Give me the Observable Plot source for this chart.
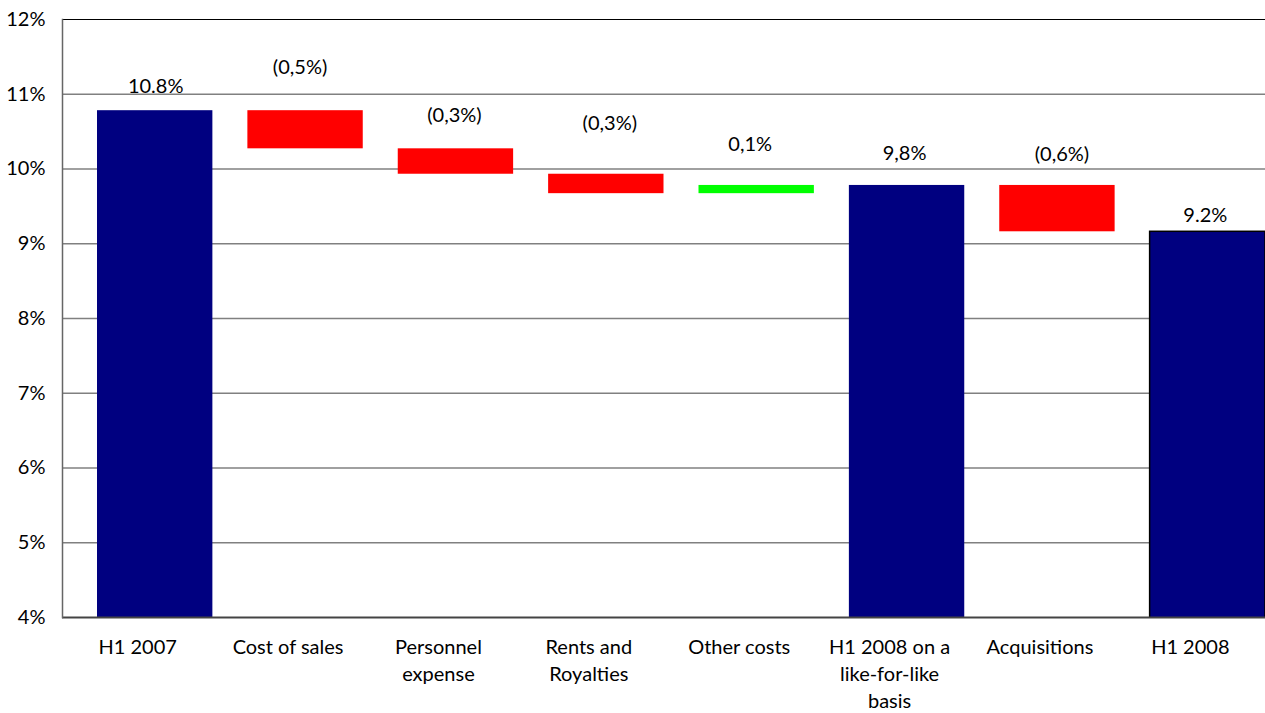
<!DOCTYPE html>
<html>
<head>
<meta charset="utf-8">
<script src="https://cdn.jsdelivr.net/npm/d3@7"></script>
<script src="https://cdn.jsdelivr.net/npm/@observablehq/plot@0.6"></script>
<style>
  html, body { margin: 0; padding: 0; background: #fff; }
  #chart { width: 1265px; height: 713px; }
</style>
</head>
<body>
<div id="chart"></div>
<script>
// ---- data ----
const categories = ["H1 2007", "Cost of sales", "Personnel\nexpense", "Rents and\nRoyalties", "Other costs", "H1 2008 on a\nlike-for-like\nbasis", "Acquisitions", "H1 2008"];
const barLow  = [0,     10.27, 9.93,  9.67, 9.67, 0,    9.16, 0];
const barHigh = [10.78, 10.78, 10.27, 9.93, 9.78, 9.78, 9.78, 9.16];
const kinds = ["total", "decrease", "decrease", "decrease", "increase", "total", "decrease", "final"];
const valueLabels = ["10.8%", "(0,5%)", "(0,3%)", "(0,3%)", "0,1%", "9,8%", "(0,6%)", "9.2%"];
const yTicks = [4, 5, 6, 7, 8, 9, 10, 11, 12];

// ---- styling ----
const colorOf = {total: "#000080", final: "#000080", decrease: "#FF0000", increase: "#00FF00"};
const labelDy = [-24, -43, -33, -51, -41, -32, -31, -16];
const labelDx = [18, 12, 16, 21, 11, 15, 22, 15];

const rows = categories.map((c, i) => ({cat: c, low: barLow[i], high: barHigh[i], kind: kinds[i], label: valueLabels[i]}));

const chart = Plot.plot({
  width: 1265,
  height: 713,
  marginLeft: 62,
  marginRight: 0,
  marginTop: 19,
  marginBottom: 96,
  style: {fontFamily: "Lato, 'Open Sans', sans-serif", fontSize: "20px", color: "#000", background: "#fff", overflow: "visible"},
  x: {domain: categories, padding: 0, round: false, label: null},
  y: {domain: [4, 12], label: null},
  marks: [
    Plot.ruleY(yTicks.filter(d => d > 4 && d < 12), {stroke: "#808080", strokeWidth: 1.5}),
    Plot.ruleY([12], {stroke: "#000", strokeWidth: 1}),
    Plot.barY(rows.filter(d => d.kind !== "final"), {
      x: "cat", y1: "low", y2: "high",
      fill: d => colorOf[d.kind],
      insetLeft: 35, insetRight: 0, clip: true
    }),
    Plot.barY(rows.filter(d => d.kind === "final"), {
      x: "cat", y1: "low", y2: "high",
      fill: d => colorOf[d.kind], stroke: "#000", strokeWidth: 1.5,
      insetLeft: 35, insetRight: 0, clip: true
    }),
    ...rows.map((r, i) => Plot.text([r], {
      x: "cat", y: "high", text: "label",
      dx: labelDx[i], dy: labelDy[i],
      fontSize: 20, fill: "#000", textAnchor: "middle", lineAnchor: "middle"
    })),
    Plot.ruleY([4], {stroke: "#444", strokeWidth: 2}),
    Plot.frame({anchor: "left", stroke: "#666", strokeWidth: 1.5}),
    Plot.axisY({ticks: yTicks, tickFormat: d => d + "%", tickSize: 0, tickPadding: 17, fontSize: 20, label: null}),
    Plot.axisX({tickSize: 0, tickPadding: 18, fontSize: 20, lineHeight: 1.33, label: null})
  ]
});
document.getElementById("chart").appendChild(chart);
</script>
</body>
</html>
